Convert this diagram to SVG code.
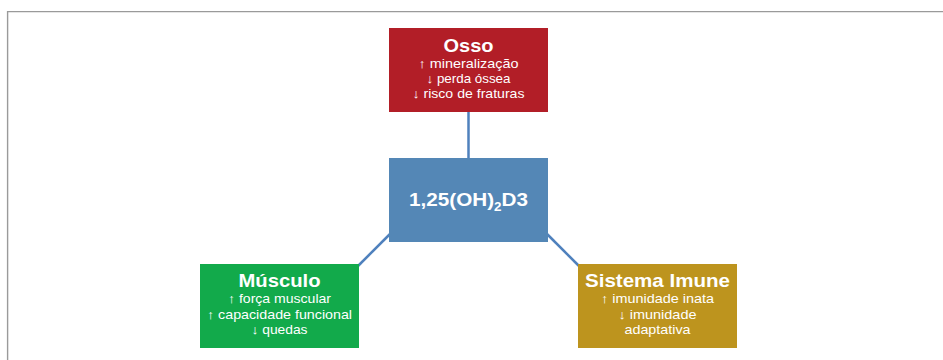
<svg xmlns="http://www.w3.org/2000/svg" width="943" height="360" viewBox="0 0 943 360">
<style>
.t{font-family:"Liberation Sans",Arial,sans-serif;font-weight:bold;font-size:18.5px;fill:#fff;text-anchor:middle}
.b{font-family:"Liberation Sans",Arial,sans-serif;font-size:13px;fill:#fff;text-anchor:middle}
.c{stroke:#4F81BD;stroke-width:2.5;fill:none}
</style>
<rect width="943" height="360" fill="#fff"/>
<path d="M7.6,360 V11.6 H943" fill="none" stroke="#9a9a9a" stroke-width="1.4"/>
<g id="connectors">
<line class="c" x1="468.5" y1="112" x2="468.5" y2="158"/>
<line class="c" x1="390" y1="234" x2="358" y2="266"/>
<line class="c" x1="547" y1="234" x2="579" y2="266"/>
</g>
<g id="osso">
<rect x="389" y="28" width="159" height="84" fill="#B21E27"/>
<text class="t" x="468.5" y="51.5" textLength="50" lengthAdjust="spacingAndGlyphs">Osso</text>
<text class="b" x="468.5" y="67.5" textLength="100" lengthAdjust="spacingAndGlyphs">↑ mineralização</text>
<text class="b" x="468.5" y="82.5" textLength="84" lengthAdjust="spacingAndGlyphs">↓ perda óssea</text>
<text class="b" x="468.5" y="97.5" textLength="112" lengthAdjust="spacingAndGlyphs">↓ risco de fraturas</text>
</g>
<g id="centro">
<rect x="389" y="158" width="159" height="84" fill="#5487B6"/>
<text class="t" x="468.5" y="206" font-size="19" textLength="119" lengthAdjust="spacingAndGlyphs">1,25(OH)<tspan font-size="12" dy="5">2</tspan><tspan dy="-5">D3</tspan></text>
</g>
<g id="musculo">
<rect x="200" y="264" width="159" height="84" fill="#12AA4B"/>
<text class="t" x="279.5" y="287" textLength="82" lengthAdjust="spacingAndGlyphs">Músculo</text>
<text class="b" x="279.5" y="303" textLength="103" lengthAdjust="spacingAndGlyphs">↑ força muscular</text>
<text class="b" x="279.5" y="318.5" textLength="145" lengthAdjust="spacingAndGlyphs">↑ capacidade funcional</text>
<text class="b" x="279.5" y="334" textLength="56" lengthAdjust="spacingAndGlyphs">↓ quedas</text>
</g>
<g id="imune">
<rect x="578" y="264" width="159" height="84" fill="#BD941E"/>
<text class="t" x="657.5" y="287" textLength="145" lengthAdjust="spacingAndGlyphs">Sistema Imune</text>
<text class="b" x="657.5" y="303" textLength="113" lengthAdjust="spacingAndGlyphs">↑ imunidade inata</text>
<text class="b" x="657.5" y="318.5" textLength="78" lengthAdjust="spacingAndGlyphs">↓ imunidade</text>
<text class="b" x="657.5" y="334" textLength="66" lengthAdjust="spacingAndGlyphs">adaptativa</text>
</g>
</svg>
